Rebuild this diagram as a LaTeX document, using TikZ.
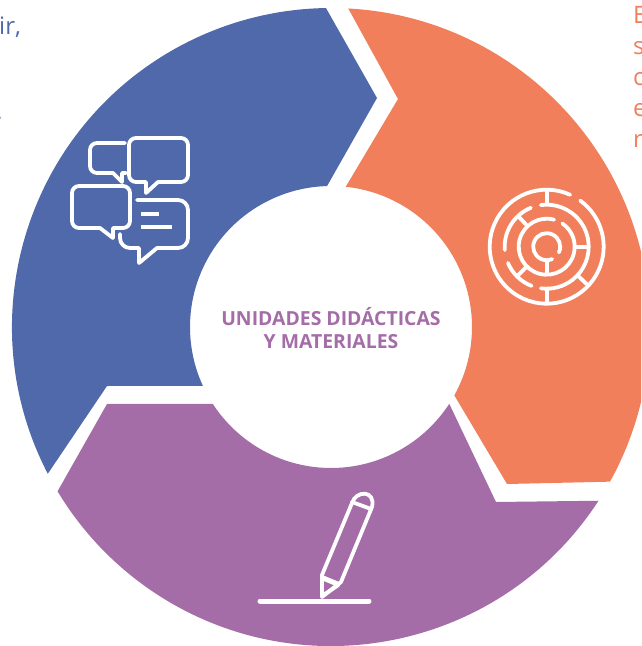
\documentclass[tikz,border=0pt]{standalone}
\usepackage{fontspec}
\setmainfont{Open Sans}
\usetikzlibrary{positioning}
\definecolor{segblue}{HTML}{5069AB}
\definecolor{segorange}{HTML}{F17F5B}
\definecolor{segpurple}{HTML}{A56DA8}
\tikzset{
    icon/.style={
    draw=white,line width=3.8pt,line cap=round,line join=round
    },
    title/.style={
    align=center,text=segpurple,font=\fontsize{19.4}{23}\selectfont\bfseries,inner sep=0pt
    },
    sidetext/.style={
    align=left,inner sep=0pt,font=\fontsize{24}{31}\selectfont
    },
}
\begin{document}
\begin{tikzpicture}[x=1pt,y=1pt]
   \useasboundingbox (-331,-319) rectangle (310,327);
   \clip (-331,-319) rectangle (310,327);
   %blue
   \fill[segblue] (207.4:319) arc[start angle=207.4,end angle=90.9,radius=319]
     -- (46,229) -- (91.6:141) arc[start angle=91.6,end angle=204.7,radius=141]
     -- (-224,-59) -- cycle;
   %orange
   \fill[segorange] (86.9:319) arc[start angle=86.9,end angle=-29,radius=319]
     -- (176,-157) -- (-29:141) arc[start angle=-29,end angle=84,radius=141]
     -- (67,228) -- cycle;
   %purple
   \fill[segpurple] (-33:319) arc[start angle=-33,end angle=-149,radius=319]
     -- (-224,-77) -- (213:141) arc[start angle=213,end angle=327,radius=141]
     -- (165,-175) -- cycle;
   %title
   \node[title] (title) at (0,-1) {UNIDADES DIDÁCTICAS\\Y MATERIALES};
   %side texts
   \node[sidetext,text=segblue,anchor=base west] (bluetext) at (-332,292) {ir,};
   \node[sidetext,text=segblue,anchor=base west] (bluedot) at (-335,207) {.};
   \node[sidetext,text=segorange,anchor=north west] (orangetext) at (302,320.5) {E\\s\\c\\e\\r};
   %bubbles, in pixels of the sheet
   \begin{scope}[shift={(-331,327)},yscale=-1]
   \draw[icon] (125,143) [rounded corners=7pt] -- (90,143) -- (90,173) [sharp corners] -- (113,173) -- (122,182) -- (122,173) -- (126,173);
   \draw[icon] (146,182) [rounded corners=7pt] -- (129,182) -- (129,138) -- (188,138) -- (188,182) [sharp corners] -- (158,182) -- (146,193) -- cycle;
   \draw[icon] (100,228) [rounded corners=7pt] -- (72,228) -- (72,186) -- (130,186) -- (130,228) [sharp corners] -- (113,228) -- (113,238) -- cycle;
   \draw[icon] (137,200) [rounded corners=10pt] -- (188,200) -- (188,248) [sharp corners] -- (157,248) -- (139,263) -- (139,248) [rounded corners=10pt] -- (120,248) -- (120,234);
   \draw[icon,line cap=butt] (141,214) -- (159,214);
   \draw[icon,line cap=butt] (141,227) -- (172,227);
   %pencil
   \draw[icon,line width=5pt] (260,601) -- (369,601);
   \draw[icon] (322,597) -- (322,575) -- (352,503) .. controls (356,490) and (376,490) .. (372,507) -- (341,582) -- cycle;
   \draw[icon] (352,502) -- (371,509);
   \draw[icon,line width=5pt,line cap=butt] (323,578) -- (340,585);
   \draw[icon] (325,594) -- (337,586);
   \end{scope}
   %labyrinth
   \begin{scope}[shift={(215.7,80.3)}]
   \draw[icon] (65.7:57) arc[start angle=65.7,end angle=414,radius=57];
   \draw[icon] (98:42) arc[start angle=98,end angle=-98,radius=42];
   \draw[icon] (112:42) arc[start angle=112,end angle=184.6,radius=42];
   \draw[icon] (202.7:42) arc[start angle=202.7,end angle=249,radius=42];
   \draw[icon] (74.6:28) arc[start angle=74.6,end angle=416,radius=28];
   \draw[icon] (-25:13.5) arc[start angle=-25,end angle=294,radius=13.5];
   \draw[icon,line cap=butt] (90:42) -- (90:57);
   \draw[icon,line cap=butt] (270:42) -- (270:57);
   \draw[icon,line cap=butt] (-43:42) -- (-43:57);
   \draw[icon,line cap=butt] (133:28) -- (133:42);
   \draw[icon,line cap=butt] (225:28) -- (225:42);
   \draw[icon,line cap=butt] (0:28) -- (0:42);
   \draw[icon,line cap=butt] (270:13.5) -- (270:28);
   \end{scope}
\end{tikzpicture}
\end{document}
